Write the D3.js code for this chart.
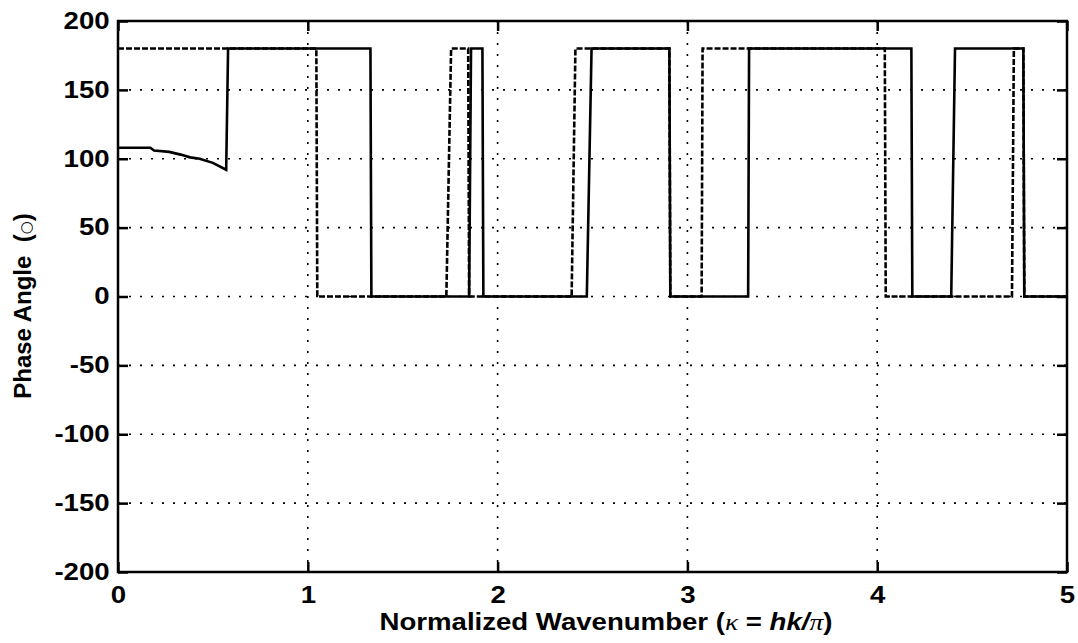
<!DOCTYPE html>
<html>
<head>
<meta charset="utf-8">
<script src="https://cdn.jsdelivr.net/npm/d3@7"></script>
<style>
  body { margin: 0; background: #fff; }
  text { font-family: "Liberation Sans", Arial, sans-serif; font-weight: bold; fill: #000; }
</style>
</head>
<body>
<div id="chart"></div>
<script>
// tick values
const xTicks = [0, 1, 2, 3, 4, 5];
const yTicks = [-200, -150, -100, -50, 0, 50, 100, 150, 200];

// solid curve
const solidX = [0, 0.17, 0.19, 0.27, 0.33, 0.38, 0.43, 0.50, 0.57, 0.58, 1.33, 1.335, 1.85, 1.86, 1.92, 1.925,
    2.47, 2.495, 2.905, 2.91, 3.32, 3.325, 4.18, 4.185, 4.39, 4.41, 4.77, 4.775, 5];
const solidY = [108, 108, 106, 105, 103, 101, 100, 97, 92, 180, 180, 0, 0, 180, 180, 0,
    0, 180, 180, 0, 0, 180, 180, 0, 0, 180, 180, 0, 0];

// dashed curve
const dashX = [0, 1.045, 1.05, 1.73, 1.755, 1.845, 1.85, 2.39, 2.41, 2.905, 2.91, 3.075, 3.08,
    4.04, 4.045, 4.71, 4.72, 4.77, 4.775, 5];
const dashY = [180, 180, 0, 0, 180, 180, 0, 0, 180, 180, 0, 0, 180,
    180, 0, 0, 180, 180, 0, 0];

const width = 1078;
const height = 643;
const plotLeft = 118, plotRight = 1067, plotTop = 21, plotBottom = 572;
const stretch = 1.2; // the lettering in the picture is a bit wide

const xScale = d3.scaleLinear().domain([0, 5]).range([plotLeft, plotRight]);
const yScale = d3.scaleLinear().domain([-200, 200]).range([plotBottom, plotTop]);

let svg = d3.select('#chart')
    .append('svg')
    .attr('width', width)
    .attr('height', height);

// dotted grid
svg.append('g')
    .selectAll('line')
    .data(yTicks.filter(d => d > -200 && d < 200))
    .enter()
    .append('line')
    .attr('x1', plotLeft).attr('x2', plotRight)
    .attr('y1', d => yScale(d)).attr('y2', d => yScale(d))
    .attr('stroke', '#000')
    .attr('stroke-width', 1.6)
    .attr('stroke-dasharray', '2,9');

svg.append('g')
    .selectAll('line')
    .data(xTicks.filter(d => d > 0 && d < 5))
    .enter()
    .append('line')
    .attr('x1', d => xScale(d)).attr('x2', d => xScale(d))
    .attr('y1', plotTop).attr('y2', plotBottom)
    .attr('stroke', '#000')
    .attr('stroke-width', 1.6)
    .attr('stroke-dasharray', '2,9');

const line = d3.line()
    .x(d => xScale(d[0]))
    .y(d => yScale(d[1]));

svg.append('path')
    .datum(dashX.map((x, i) => [x, dashY[i]]))
    .attr('d', line)
    .attr('fill', 'none')
    .attr('stroke', '#000')
    .attr('stroke-width', 2.6)
    .attr('stroke-dasharray', '6,2');

svg.append('path')
    .datum(solidX.map((x, i) => [x, solidY[i]]))
    .attr('d', line)
    .attr('fill', 'none')
    .attr('stroke', '#000')
    .attr('stroke-width', 2.6);

// axes box with inward ticks
const axisStyle = g => {
    g.select('.domain').remove();
    g.selectAll('.tick line').attr('stroke', '#000').attr('stroke-width', 2.5);
};
const plain = d => String(d);

svg.append('g')
    .attr('transform', `translate(0,${plotBottom})`)
    .call(d3.axisBottom(xScale).tickValues(xTicks).tickSizeInner(-10).tickSizeOuter(0).tickPadding(15).tickFormat(plain))
    .call(axisStyle)
    .selectAll('text')
    .attr('font-size', 23)
    .attr('dy', '0.71em')
    .attr('transform', `scale(${stretch},1)`);

svg.append('g')
    .attr('transform', `translate(0,${plotTop})`)
    .call(d3.axisTop(xScale).tickValues(xTicks).tickSizeInner(-10).tickSizeOuter(0).tickFormat(''))
    .call(axisStyle);

svg.append('g')
    .attr('transform', `translate(${plotLeft},0)`)
    .call(d3.axisLeft(yScale).tickValues(yTicks).tickSizeInner(-10).tickSizeOuter(0).tickPadding(7).tickFormat(plain))
    .call(axisStyle)
    .selectAll('text')
    .attr('font-size', 23)
    .attr('transform', `scale(${stretch},1)`);

svg.append('g')
    .attr('transform', `translate(${plotRight},0)`)
    .call(d3.axisRight(yScale).tickValues(yTicks).tickSizeInner(-10).tickSizeOuter(0).tickFormat(''))
    .call(axisStyle);

svg.append('rect')
    .attr('x', plotLeft).attr('y', plotTop)
    .attr('width', plotRight - plotLeft).attr('height', plotBottom - plotTop)
    .attr('fill', 'none')
    .attr('stroke', '#000')
    .attr('stroke-width', 2.5);

// axis titles
let xt = svg.append('text')
    .attr('transform', `translate(606,630) scale(${stretch},1)`)
    .attr('text-anchor', 'middle')
    .attr('font-size', 23);
xt.append('tspan').text('Normalized Wavenumber (');
xt.append('tspan').attr('font-family', 'Liberation Serif').attr('font-style', 'italic').attr('font-weight', 'normal').text('\u03BA');
xt.append('tspan').text(' = ');
xt.append('tspan').attr('font-style', 'italic').text('hk/');
xt.append('tspan').attr('font-family', 'Liberation Serif').attr('font-style', 'italic').attr('font-weight', 'normal').text('\u03C0');
xt.append('tspan').text(')');

let yt = svg.append('text')
    .attr('transform', 'translate(31,306) rotate(-90)')
    .attr('text-anchor', 'middle')
    .attr('font-size', 24);
yt.append('tspan').text('Phase Angle\u00A0\u00A0(');
yt.append('tspan').attr('font-family', 'DejaVu Sans').attr('font-weight', 'normal').attr('font-size', 15).text('\u25CB');
yt.append('tspan').text(')');
</script>
</body>
</html>
